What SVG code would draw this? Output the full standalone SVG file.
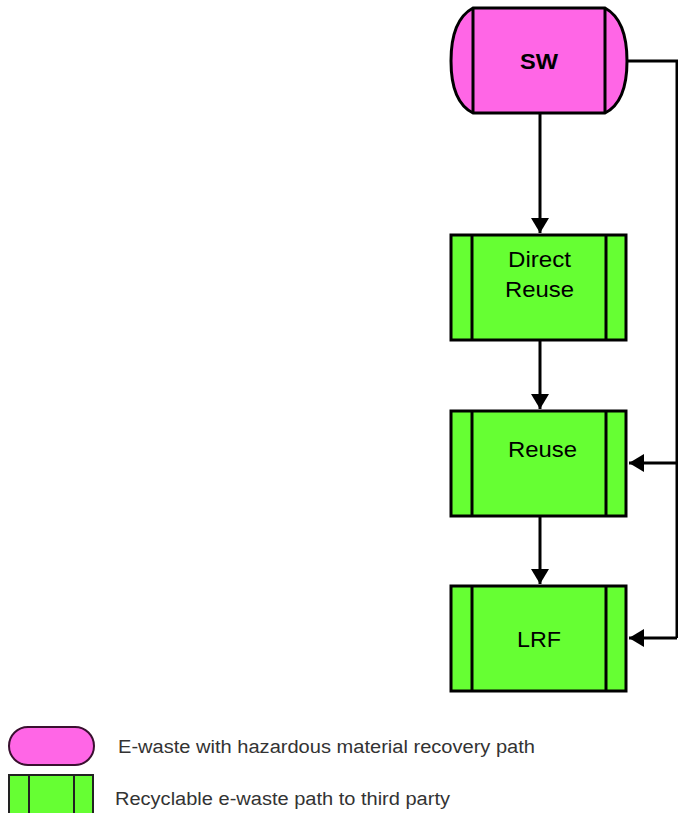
<svg xmlns="http://www.w3.org/2000/svg" width="678" height="813" viewBox="0 0 678 813">
<style>
.pink{fill:#ff66e6;stroke:#000;stroke-width:3}
.green{fill:#66ff33;stroke:#000;stroke-width:3}
.ln{stroke:#000;stroke-width:3;fill:none}
.t{font-family:"Liberation Sans",Arial,sans-serif;font-size:22px;fill:#000;text-anchor:middle}
.lg{font-family:"Liberation Sans",Arial,sans-serif;font-size:18px;fill:#333}
.c{stroke:#000;stroke-width:3;fill:none;marker-end:url(#ah)}
</style>
<defs>
<marker id="ah" markerWidth="6" markerHeight="6" refX="5" refY="3" orient="auto" markerUnits="strokeWidth">
<path d="M0,0 L5,3 L0,6 Z" fill="#000"/>
</marker>
</defs>
<rect width="678" height="813" fill="#fff"/>
<g id="connectors">
<path class="c" d="M540,114 V233"/>
<path class="c" d="M540,340 V409"/>
<path class="c" d="M540,516 V584"/>
<path class="ln" d="M627,61 H677 V638"/>
<path class="c" d="M677,463 H629"/>
<path class="c" d="M677,638 H629"/>
</g>
<g id="SW">
<path class="pink" d="M473,8 H605 Q627,20 627,61 Q627,102 605,113 H473 Q451,102 451,61 Q451,20 473,8 Z"/>
<line class="ln" x1="473" y1="8" x2="473" y2="113"/>
<line class="ln" x1="605" y1="8" x2="605" y2="113"/>
<text class="t" x="539" y="69" font-weight="bold" textLength="38" lengthAdjust="spacingAndGlyphs">SW</text>
</g>
<g id="DirectReuse">
<rect class="green" x="451" y="235" width="175" height="105"/>
<line class="ln" x1="472" y1="235" x2="472" y2="340"/>
<line class="ln" x1="606" y1="235" x2="606" y2="340"/>
<text class="t" x="539.5" y="267" textLength="63" lengthAdjust="spacingAndGlyphs">Direct</text>
<text class="t" x="539.5" y="297" textLength="69" lengthAdjust="spacingAndGlyphs">Reuse</text>
</g>
<g id="Reuse">
<rect class="green" x="451" y="411" width="175" height="105"/>
<line class="ln" x1="472" y1="411" x2="472" y2="516"/>
<line class="ln" x1="606" y1="411" x2="606" y2="516"/>
<text class="t" x="542.5" y="457" textLength="69" lengthAdjust="spacingAndGlyphs">Reuse</text>
</g>
<g id="LRF">
<rect class="green" x="451" y="586" width="175" height="105"/>
<line class="ln" x1="472" y1="586" x2="472" y2="691"/>
<line class="ln" x1="606" y1="586" x2="606" y2="691"/>
<text class="t" x="539" y="647" textLength="44" lengthAdjust="spacingAndGlyphs">LRF</text>
</g>
<g id="legend">
<rect x="9" y="727" width="85" height="38" rx="19" ry="19" fill="#ff66e6" stroke="#3a1030" stroke-width="2"/>
<rect x="9" y="775" width="84" height="40" fill="#66ff33" stroke="#222" stroke-width="2"/>
<line x1="29" y1="775" x2="29" y2="813" stroke="#222" stroke-width="2"/>
<line x1="74" y1="775" x2="74" y2="813" stroke="#222" stroke-width="2"/>
<text class="lg" x="118" y="753" textLength="417" lengthAdjust="spacingAndGlyphs">E-waste with hazardous material recovery path</text>
<text class="lg" x="115" y="805" textLength="335" lengthAdjust="spacingAndGlyphs">Recyclable e-waste path to third party</text>
</g>
</svg>
